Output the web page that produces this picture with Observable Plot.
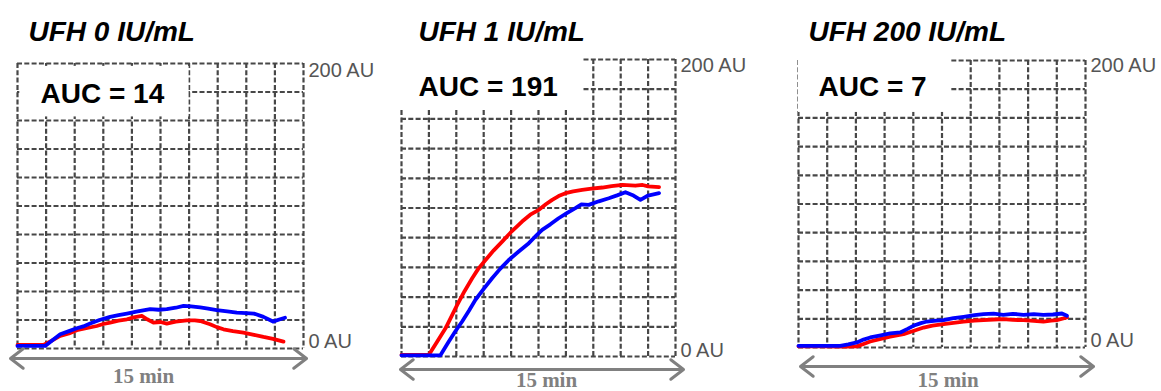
<!DOCTYPE html>
<html><head><meta charset="utf-8">
<script src="https://cdn.jsdelivr.net/npm/d3@7"></script>
<script src="https://cdn.jsdelivr.net/npm/@observablehq/plot@0.6"></script>
<style>
html,body{margin:0;padding:0;background:#fff;}
#chart{position:relative;width:1161px;height:391px;overflow:hidden;background:#fff;}
#chart svg{position:absolute;top:0;overflow:visible;}
</style></head><body><div id="chart"></div>
<script>
// ---- data ----
const titles = ["UFH 0 IU/mL", "UFH 1 IU/mL", "UFH 200 IU/mL"];
const aucValues = [14, 191, 7];
const timeGrid = [0, 1.5, 3, 4.5, 6, 7.5, 9, 10.5, 12, 13.5, 15];   // minutes
const auGrid = [0, 20, 40, 60, 80, 100, 120, 140, 160, 180, 200];   // AU
const axisLabels = ["0 AU", "200 AU"];
const durationLabel = "15 min";

// [time (min), signal (AU)]
const ufh0Red = [[0,2.5],[0.8,2.6],[1.36,2.5],[1.8,5.5],[2.24,8.8],[2.7,10.5],[3.11,12.8],[3.6,14.2],[4.16,15.8],[4.5,17.2],[4.86,18.2],[5.3,19.5],[5.74,20.5],[6.1,21.8],[6.52,22.9],[6.8,20.5],[7.13,18.2],[7.5,18.6],[7.83,17.5],[8.3,18.8],[8.88,19.8],[9.3,19.8],[9.58,19.3],[10.1,17],[10.45,15],[10.8,13.5],[11.3,12.2],[11.85,11.1],[12.4,9.6],[12.9,8.1],[13.4,6.8],[13.95,4.8]];
const ufh0Blue = [[0,1.8],[0.8,1.8],[1.45,1.8],[1.85,6],[2.24,10],[2.7,12.2],[3.11,14.2],[3.45,15.5],[3.81,17.5],[4.3,20],[4.86,22.2],[5.3,23.4],[5.74,24.5],[6.3,26],[6.96,27.6],[7.4,27.2],[7.83,27.6],[8.3,28.6],[8.71,29.9],[9.1,29.5],[9.58,28.8],[10.0,28],[10.45,26.9],[11.0,26],[11.5,25.2],[12.0,24.8],[12.4,24.5],[12.9,22.2],[13.4,18.9],[13.77,20.5],[14.03,21.6]];
const ufh1Red = [[0,1.1],[0.8,1.1],[1.5,1.1],[1.95,10],[2.41,19],[3.05,34.8],[3.45,44],[3.87,52.7],[4.2,59],[4.6,65],[5.05,71.5],[5.51,77.4],[6.05,84.5],[6.6,90.9],[7.05,95.5],[7.52,98.8],[7.9,102.5],[8.25,105.5],[8.6,108],[8.98,110],[9.4,111.2],[9.89,112.2],[10.4,113],[11.0,113.8],[11.5,114.8],[12.1,115.6],[12.8,115],[13.2,115.5],[13.5,114.6],[14.1,114]];
const ufh1Blue = [[0,0.8],[1.0,0.8],[2.13,0.8],[2.59,10.1],[2.95,17],[3.32,23.6],[3.7,31],[4.05,38.2],[4.5,45.5],[4.96,52.7],[5.4,59],[5.87,65],[6.4,70.5],[6.97,76.3],[7.3,80.5],[7.7,85.3],[8.15,89],[8.6,93.1],[9.05,96.5],[9.52,99.9],[9.85,102.5],[10.25,102.1],[10.8,104.5],[11.35,106.6],[11.8,108.5],[12.26,110.6],[12.7,108.4],[13.08,105.5],[13.5,108.4],[14.1,110]];
const ufh200Red = [[0,0.8],[1.2,0.8],[2.18,0.6],[2.6,0.6],[3.05,0.8],[3.4,2.5],[3.75,4.2],[4.3,6],[4.79,7.5],[5.49,9.3],[6.0,11.5],[6.54,13.9],[7.0,15.3],[7.58,16.3],[8.1,17.2],[8.63,18.1],[9.2,18.8],[9.67,19.1],[10.2,19.5],[10.7,19.8],[11.2,19.2],[11.76,19.1],[12.3,18.6],[12.8,18.1],[13.2,18.8],[13.5,19.1],[14.03,20.9]];
const ufh200Blue = [[0,1.2],[1.2,1.2],[2.18,1.2],[2.6,2.2],[3.05,3.5],[3.4,5.5],[3.75,7],[4.3,8.5],[4.79,9.8],[5.32,10.5],[5.7,13],[6.0,15.1],[6.4,17],[6.71,18.1],[7.2,18.7],[7.58,19.1],[8.1,20.5],[8.63,21.4],[9.2,22.5],[9.67,23.3],[10.2,23.6],[10.7,22.8],[11.2,23.5],[11.76,22.8],[12.3,23.2],[12.8,22.8],[13.3,23],[13.77,23.7],[14.03,22.1]];

const redSeries = [ufh0Red, ufh1Red, ufh200Red];
const blueSeries = [ufh0Blue, ufh1Blue, ufh200Blue];

// ---- layout (pixels / annotation extents) ----
const layout = [
  {left: 0,   width: 390, mt: 63, mr: 87,  mb: 43, ml: 17, box: [0.12, 9.0, 162.5, 198],
   titleDx: 11, titleDy: -23, aucDx: 23, aucDy: 39, topLabDy: -1, botLabDy: -1,
   arrowDy: 10, extL: 7, extR: 3, capDx: -17, capDy: 34},
  {left: 390, width: 390, mt: 59, mr: 105, mb: 35, ml: 11, box: [-0.22, 9.96, 165.7, 201.5],
   titleDx: 17, titleDy: -19, aucDx: 17, aucDy: 36, topLabDy: -2, botLabDy: 0,
   arrowDy: 13, extL: 1, extR: 8, capDx: 8, capDy: 30},
  {left: 780, width: 381, mt: 60, mr: 76,  mb: 44, ml: 18, box: [0, 8.0, 163.8, 201.5],
   titleDx: 10, titleDy: -20, aucDx: 20, aucDy: 35, topLabDy: -3, botLabDy: -1,
   arrowDy: 19, extL: -2, extR: 8, capDx: 6, capDy: 39}
];

const sans = "Arial, 'Liberation Sans', Helvetica, sans-serif";
const serif = "'Times New Roman', 'Liberation Serif', serif";

function panel(i) {
  const L = layout[i];
  const t0 = timeGrid[0], t1 = timeGrid[timeGrid.length - 1];
  const mid = (t0 + t1) / 2;
  const gridStyle = {stroke: "#474747", strokeWidth: 2.2, strokeDasharray: "5,2.3"};
  const arrowStyle = {y1: () => auGrid[0], y2: () => auGrid[0], dy: L.arrowDy, stroke: "#808080",
    strokeWidth: 3, headAngle: 75, headLength: 8, strokeLinecap: "round", strokeLinejoin: "round"};
  const svg = Plot.plot({
    width: L.width, height: 391,
    marginTop: L.mt, marginRight: L.mr, marginBottom: L.mb, marginLeft: L.ml,
    x: {domain: [t0, t1], axis: null},
    y: {domain: [auGrid[0], auGrid[auGrid.length - 1]], axis: null},
    style: {background: "transparent", overflow: "visible"},
    marks: [
      Plot.ruleX(timeGrid, gridStyle),
      Plot.ruleY(auGrid, gridStyle),
      Plot.rect([L.box], {x1: d => d[0], x2: d => d[1], y1: d => d[2], y2: d => d[3], fill: "white"}),
      Plot.line(redSeries[i], {x: d => d[0], y: d => d[1], stroke: "#ff0000", strokeWidth: 3.8, strokeLinejoin: "round"}),
      Plot.line(blueSeries[i], {x: d => d[0], y: d => d[1], stroke: "#0000ff", strokeWidth: 3.8, strokeLinejoin: "round"}),
      Plot.text([titles[i]], {text: d => d, frameAnchor: "top-left", dx: L.titleDx, dy: L.titleDy,
        textAnchor: "start", lineAnchor: "bottom", fontSize: 28, fontWeight: "bold", fontStyle: "italic",
        fontFamily: sans, fill: "black"}),
      Plot.text([`AUC = ${aucValues[i]}`], {text: d => d, frameAnchor: "top-left", dx: L.aucDx, dy: L.aucDy,
        textAnchor: "start", lineAnchor: "bottom", fontSize: 28, fontWeight: "bold",
        fontFamily: sans, fill: "black"}),
      Plot.text([axisLabels[1]], {text: d => d, frameAnchor: "top-right", dx: 5, dy: L.topLabDy,
        textAnchor: "start", lineAnchor: "top", fontSize: 20, fontFamily: sans, fill: "#555"}),
      Plot.text([axisLabels[0]], {text: d => d, frameAnchor: "bottom-right", dx: 5, dy: L.botLabDy,
        textAnchor: "start", lineAnchor: "bottom", fontSize: 20, fontFamily: sans, fill: "#555"}),
      Plot.arrow([{a: mid, b: t0}], {x1: "a", x2: "b", insetEnd: -L.extL, ...arrowStyle}),
      Plot.arrow([{a: mid, b: t1}], {x1: "a", x2: "b", insetEnd: -L.extR, ...arrowStyle}),
      Plot.text([durationLabel], {text: d => d, frameAnchor: "bottom", dx: L.capDx, dy: L.capDy,
        lineAnchor: "bottom", fontSize: 21, fontWeight: "bold", fontFamily: serif, fill: "#808080"})
    ]
  });
  svg.style.left = L.left + "px";
  return svg;
}

const chart = document.getElementById("chart");
for (let i = 0; i < 3; i++) chart.appendChild(panel(i));
</script>
</body></html>
